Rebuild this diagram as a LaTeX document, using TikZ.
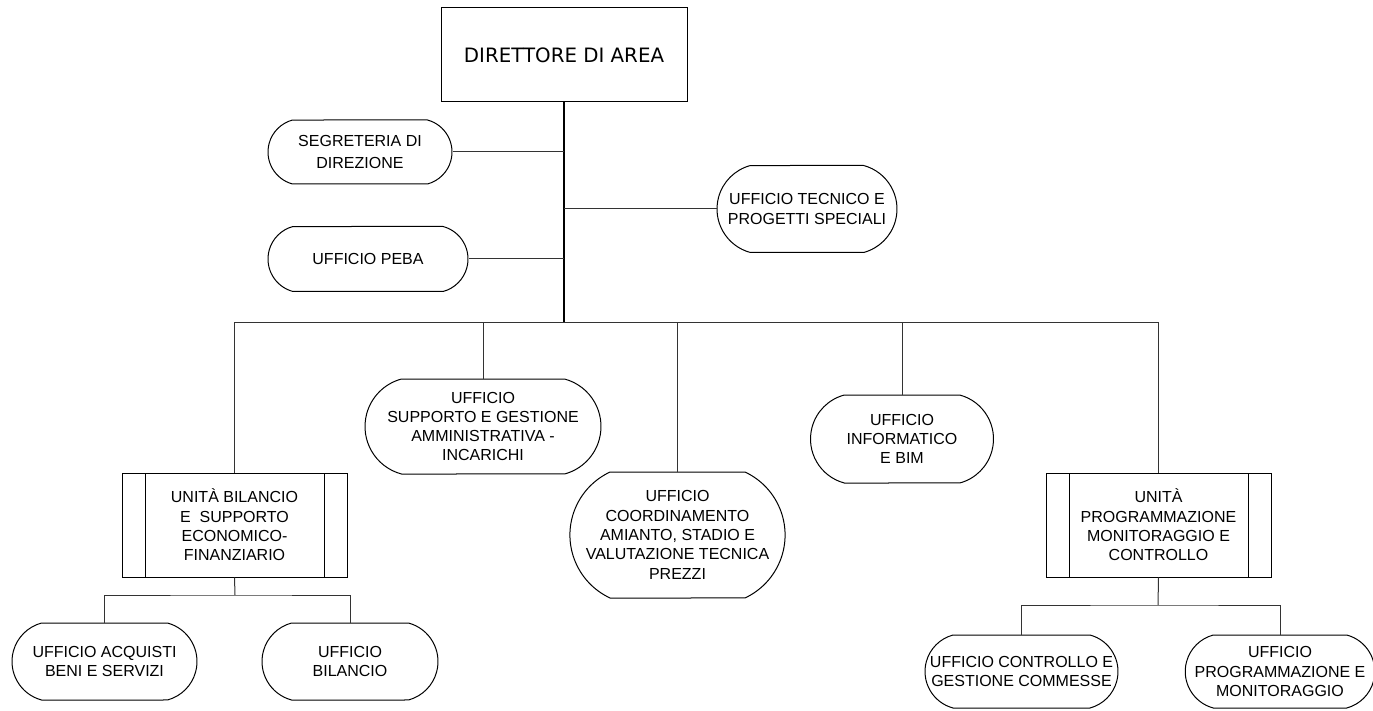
\documentclass[tikz,border=0pt]{standalone}
\usepackage{fontspec}
\setmainfont{Liberation Sans}
\newfontfamily\dejavu{DejaVu Sans}
\usetikzlibrary{shapes.misc}
\begin{document}
\begin{tikzpicture}[x=1pt,y=-1pt,
  txt/.style={font=\fontsize{16}{19.3}\selectfont, align=center, inner sep=0pt},
  pill/.style={txt, draw=black, line width=1pt, rounded rectangle, rounded rectangle arc length=150},
  unitbox/.style={txt, draw=black, line width=1pt, rectangle,
    path picture={\draw[line width=1pt] ([xshift=23pt]path picture bounding box.north west) -- ([xshift=23pt]path picture bounding box.south west);
                  \draw[line width=1pt] ([xshift=-23pt]path picture bounding box.north east) -- ([xshift=-23pt]path picture bounding box.south east);}},
  conn/.style={draw=black!80, line width=1pt},
  trunk/.style={draw=black, line width=2pt}
]
\useasboundingbox (0,0) rectangle (1373,711);

\node[draw=black, line width=1pt, minimum width=246pt, minimum height=94pt, inner sep=0pt,
      font=\dejavu\fontsize{19.8}{22}\selectfont] (dir) at (564,55) {DIRETTORE DI AREA};

\node[pill, minimum width=184pt, minimum height=64pt, font=\fontsize{16}{21.5}\selectfont] (seg) at (360,152) {SEGRETERIA DI\\DIREZIONE};
\node[pill, minimum width=200pt, minimum height=65pt] (peba) at (368,259) {UFFICIO PEBA};
\node[pill, minimum width=180pt, minimum height=87pt] (tec) at (807,209) {UFFICIO TECNICO E\\PROGETTI SPECIALI};

\node[pill, minimum width=236pt, minimum height=95pt] (sup) at (483,426.5) {UFFICIO\\SUPPORTO E GESTIONE\\AMMINISTRATIVA -\\INCARICHI};
\node[pill, rounded rectangle arc length=130, minimum width=205pt, minimum height=126pt] (coo) at (677.5,535) {UFFICIO\\COORDINAMENTO\\AMIANTO, STADIO E\\VALUTAZIONE TECNICA\\PREZZI};
\node[pill, minimum width=183pt, minimum height=88pt] (inf) at (902,439) {UFFICIO\\INFORMATICO\\E BIM};

\node[unitbox, minimum width=225pt, minimum height=104pt] (ub) at (234.5,525) {UNITÀ BILANCIO\\E\ \ SUPPORTO\\ECONOMICO-\\FINANZIARIO};
\node[unitbox, minimum width=225pt, minimum height=104pt] (up) at (1158.5,525) {UNITÀ\\PROGRAMMAZIONE\\MONITORAGGIO E\\CONTROLLO};

\node[pill, minimum width=185pt, minimum height=77pt] (acq) at (104.5,661.5) {UFFICIO ACQUISTI\\BENI E SERVIZI};
\node[pill, minimum width=176pt, minimum height=77pt] (bil) at (350,661.5) {UFFICIO\\BILANCIO};
\node[pill, minimum width=193pt, minimum height=73pt] (con) at (1021.5,671.5) {UFFICIO CONTROLLO E\\GESTIONE COMMESSE};
\node[pill, minimum width=186pt, minimum height=73pt] (pro) at (1280,671.5) {UFFICIO\\PROGRAMMAZIONE E\\MONITORAGGIO};

\coordinate (bus) at (563,322);
\coordinate (sbl) at (235,595);
\coordinate (sbr) at (1158,605);

% trunk
\draw[trunk] (dir.south) -- (dir.south |- bus);
% side branches
\draw[conn] (seg.east) -- (seg.east -| dir.south);
\draw[conn] (peba.east) -- (peba.east -| dir.south);
\draw[conn] (tec.west) -- (tec.west -| dir.south);
% main bus
\draw[conn] (ub.north) -- (ub.north |- bus) -- (up.north |- bus) -- (up.north);
\draw[conn] (sup.north) -- (sup.north |- bus);
\draw[conn] (coo.north) -- (coo.north |- bus);
\draw[conn] (inf.north) -- (inf.north |- bus);
% sub buses
\draw[conn] (ub.south) -- (sbl);
\draw[conn] (acq.north) |- (sbl) -| (bil.north);
\draw[conn] (up.south) -- (sbr);
\draw[conn] (con.north) |- (sbr) -| (pro.north);
\end{tikzpicture}
\end{document}
